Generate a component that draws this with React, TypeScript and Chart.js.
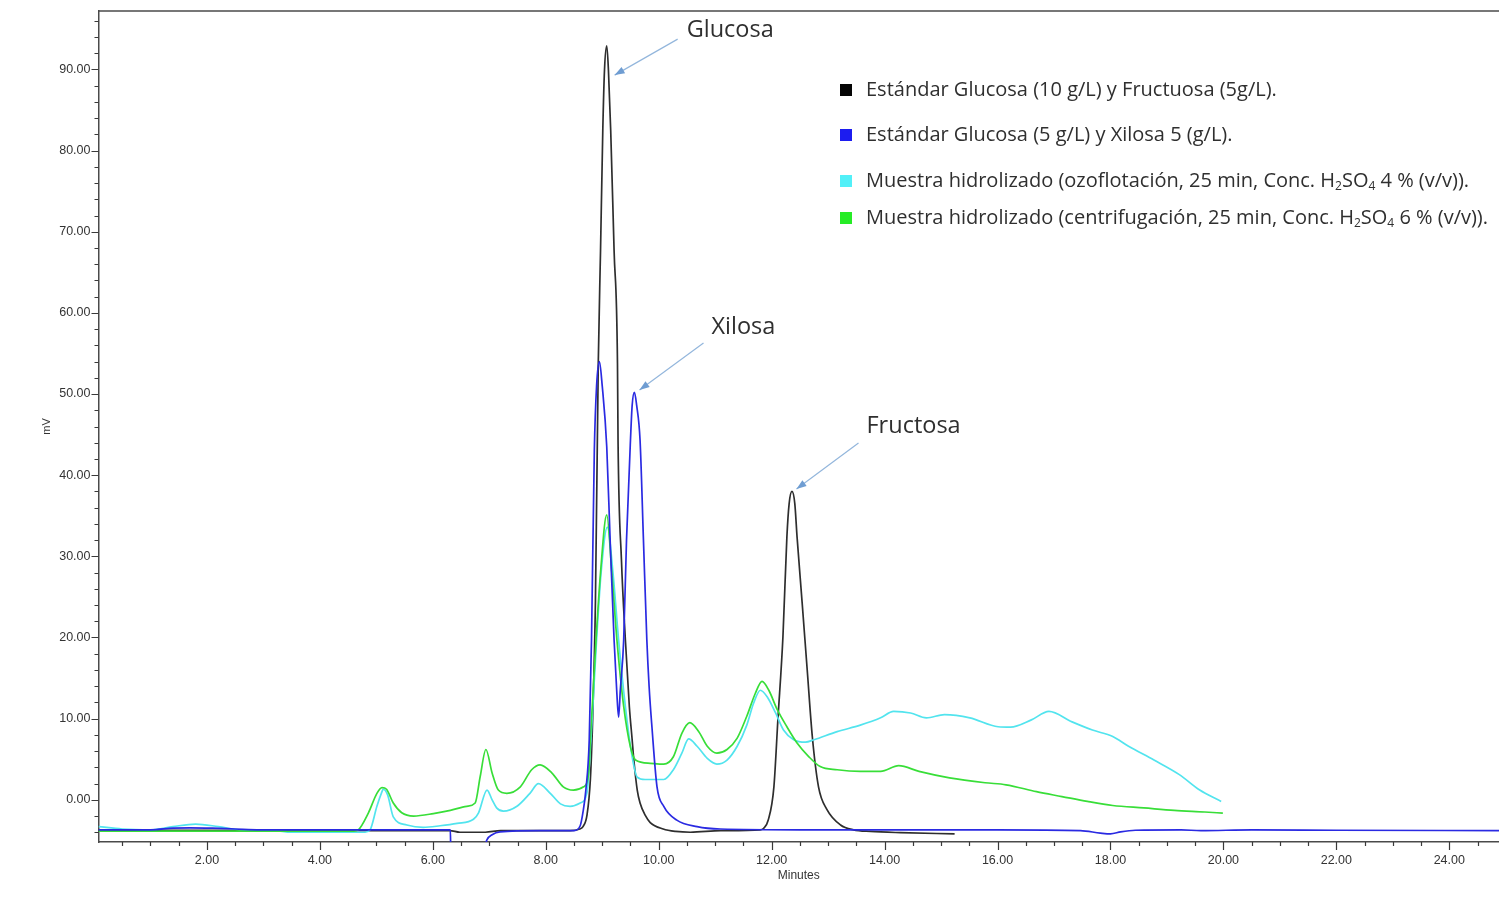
import React, { useEffect, useRef } from "react";
import { Chart, registerables } from "chart.js";

Chart.register(...registerables);

// Axis extents: retention time (min) and detector signal (mV)
const X_MIN = 0.08;
const X_MAX = 24.88;
const Y_MIN = -5.2;
const Y_MAX = 97.2;

// Labelled ticks and minor tick spacing
const X_TICKS = [2, 4, 6, 8, 10, 12, 14, 16, 18, 20, 22, 24];
const Y_TICKS = [0, 10, 20, 30, 40, 50, 60, 70, 80, 90];
const X_MINOR_STEP = 0.5;
const Y_MINOR_STEP = 2;

// Chromatograms as [time (min), signal (mV)]
const stdGlucoseFructose: [number, number][] = [
  [0.08, -3.8], [1.0, -3.75], [3.0, -3.8], [6.3, -3.8], [6.48, -4.0], [6.93, -4.0],
  [7.2, -3.8], [8.43, -3.8], [8.6, -3.6], [8.66, -3.3], [8.73, -1.9], [8.79, 2.5],
  [8.83, 9.8], [8.88, 24.6], [8.93, 53.8], [8.97, 67.7], [9.01, 82.5], [9.04, 89.9],
  [9.08, 92.9], [9.11, 89.9], [9.15, 82.5], [9.21, 67.7], [9.27, 53.8], [9.28, 44.3],
  [9.34, 29.6], [9.41, 19.7], [9.48, 11.5], [9.53, 7.4], [9.56, 4.9], [9.62, 1.2],
  [9.67, -0.4], [9.76, -1.9], [9.85, -2.8], [10.08, -3.6], [10.3, -3.9], [10.56, -4.0],
  [11.1, -3.8], [11.8, -3.7], [11.86, -3.5], [11.94, -2.5], [12.04, 1.6], [12.11, 9.8],
  [12.2, 20.1], [12.27, 32.4], [12.31, 36.5], [12.36, 38.0], [12.41, 36.5], [12.45, 32.4],
  [12.54, 24.3], [12.63, 16.0], [12.72, 7.8], [12.83, 1.6], [12.98, -1.2], [13.22, -3.1],
  [13.45, -3.7], [13.75, -3.9], [14.28, -4.05], [15.24, -4.2],
];

const stdGlucoseXylose: [number, number][] = [
  [0.08, -3.7], [1.0, -3.7], [1.4, -3.5], [1.7, -3.45], [2.1, -3.5], [2.5, -3.6],
  [2.94, -3.7], [6.31, -3.7], [6.32, -6.5], [6.88, -6.5], [6.96, -4.9], [7.05, -4.3],
  [7.19, -3.95], [7.9, -3.8], [8.5, -3.8], [8.61, -3.2], [8.66, -1.5], [8.71, 1.2],
  [8.77, 7.4], [8.81, 19.7], [8.86, 43.0], [8.9, 51.0], [8.95, 54.0], [9.0, 51.0],
  [9.08, 43.5], [9.14, 32.0], [9.21, 19.7], [9.26, 13.0], [9.29, 10.2], [9.32, 13.5],
  [9.38, 19.7], [9.43, 32.0], [9.5, 44.3], [9.53, 48.6], [9.57, 50.2], [9.61, 48.6],
  [9.67, 44.3], [9.73, 32.0], [9.79, 19.7], [9.83, 14.0], [9.88, 9.0], [9.97, 1.6],
  [10.09, -0.8], [10.32, -2.5], [10.68, -3.3], [11.09, -3.6], [12.5, -3.7], [16.0, -3.7],
  [17.47, -3.8], [17.82, -4.1], [18.0, -4.2], [18.18, -3.95], [18.44, -3.75], [19.25, -3.7],
  [19.6, -3.8], [20.5, -3.7], [22.0, -3.75], [24.88, -3.8],
];

const hydrolysateOzoflotation: [number, number][] = [
  [0.08, -3.3], [0.5, -3.6], [1.0, -3.7], [1.4, -3.3], [1.8, -3.0], [2.2, -3.3],
  [2.6, -3.7], [3.2, -3.8], [3.5, -4.0], [4.8, -4.0], [4.89, -3.7], [5.01, -0.8],
  [5.1, 1.0], [5.12, 1.3], [5.2, 0.6], [5.3, -2.1], [5.54, -3.1], [5.83, -3.4],
  [6.13, -3.2], [6.43, -2.9], [6.72, -2.4], [6.81, -1.6], [6.96, 1.2], [7.05, 0.0],
  [7.13, -1.0], [7.25, -1.4], [7.49, -0.8], [7.72, 0.8], [7.87, 2.0], [8.08, 0.8],
  [8.26, -0.5], [8.43, -0.8], [8.61, -0.4], [8.73, 0.9], [8.8, 7.4], [8.9, 19.7],
  [8.98, 28.0], [9.09, 33.6], [9.19, 28.0], [9.29, 19.7], [9.41, 11.5], [9.53, 5.3],
  [9.62, 2.8], [9.76, 2.5], [10.09, 2.5], [10.26, 3.7], [10.41, 5.75], [10.53, 7.5],
  [10.68, 6.6], [10.86, 5.1], [11.03, 4.4], [11.21, 4.9], [11.39, 6.6], [11.56, 9.2],
  [11.68, 11.9], [11.8, 13.5], [11.92, 12.7], [12.07, 10.7], [12.21, 8.6], [12.39, 7.4],
  [12.6, 7.1], [12.75, 7.4], [13.16, 8.4], [13.57, 9.2], [13.93, 10.1], [14.16, 10.9],
  [14.46, 10.7], [14.74, 10.1], [15.06, 10.5], [15.51, 10.1], [16.01, 9.0], [16.23, 8.95],
  [16.6, 9.85], [16.91, 10.9], [17.32, 9.6], [17.68, 8.6], [18.04, 7.8], [18.32, 6.6],
  [18.77, 4.9], [19.22, 3.1], [19.58, 1.2], [19.96, -0.2],
];

const hydrolysateCentrifugation: [number, number][] = [
  [0.08, -3.85], [4.6, -3.85], [4.68, -3.7], [4.86, -1.6], [5.01, 0.8], [5.1, 1.5],
  [5.18, 1.3], [5.3, -0.4], [5.45, -1.6], [5.66, -2.0], [6.01, -1.7], [6.31, -1.3],
  [6.6, -0.8], [6.75, -0.4], [6.84, 2.9], [6.94, 6.2], [7.05, 3.3], [7.16, 1.2],
  [7.31, 0.8], [7.55, 1.6], [7.75, 3.7], [7.9, 4.3], [8.11, 3.3], [8.31, 1.6],
  [8.49, 1.2], [8.67, 1.6], [8.76, 3.3], [8.79, 7.4], [8.89, 19.7], [8.97, 28.0],
  [9.08, 35.1], [9.17, 28.0], [9.26, 19.7], [9.38, 11.5], [9.5, 6.5], [9.59, 4.9],
  [9.85, 4.5], [10.09, 4.4], [10.26, 5.3], [10.41, 8.2], [10.55, 9.5], [10.71, 8.4],
  [10.86, 6.6], [11.03, 5.75], [11.21, 6.2], [11.39, 7.6], [11.56, 10.3], [11.71, 13.1],
  [11.83, 14.6], [11.95, 13.5], [12.1, 11.1], [12.27, 9.0], [12.45, 7.0], [12.66, 5.3],
  [12.86, 4.1], [13.16, 3.7], [13.57, 3.5], [13.93, 3.5], [14.25, 4.2], [14.61, 3.5],
  [15.15, 2.7], [15.78, 2.1], [16.15, 1.85], [16.69, 1.0], [17.14, 0.4], [17.59, -0.2],
  [18.04, -0.7], [18.59, -1.0], [19.13, -1.3], [19.67, -1.5], [19.99, -1.64],
];

const SERIES_LABELS = [
  "Estándar Glucosa (10 g/L) y Fructuosa (5g/L).",
  "Estándar Glucosa (5 g/L) y Xilosa 5 (g/L).",
  "Muestra hidrolizado (ozoflotación, 25 min, Conc. H_2SO_4 4 % (v/v)).",
  "Muestra hidrolizado (centrifugación, 25 min, Conc. H_2SO_4 6 % (v/v)).",
];
const SERIES_DATA = [stdGlucoseFructose, stdGlucoseXylose, hydrolysateOzoflotation, hydrolysateCentrifugation];
const SERIES_COLORS = ["#2e2e2e", "#2a2ae2", "#52e4ee", "#38de38"];
const SWATCH_COLORS = ["#050505", "#1c1cf0", "#52f0f8", "#26ec26"];
const SERIES_ORDER = [3, 0, 2, 1];

// Peak callouts: name and the point (min, mV) the arrow touches
const PEAK_NAMES = ["Glucosa", "Xilosa", "Fructosa"];
const PEAK_TIMES = [9.22, 9.66, 12.44];
const PEAK_SIGNALS = [89.3, 50.5, 38.3];

const LABEL_FONT = "'Open Sans', 'DejaVu Sans', sans-serif";
const AXIS_FONT = "'Liberation Sans', Arial, sans-serif";

// Draws text where "_d" marks a subscript digit
function drawRichText(ctx: CanvasRenderingContext2D, text: string, x: number, y: number, size: number) {
  const parts = text.split(/_(\d)/);
  let cx = x;
  parts.forEach((part, i) => {
    const sub = i % 2 === 1;
    ctx.font = `${sub ? Math.round(size * 0.62) : size}px ${LABEL_FONT}`;
    ctx.fillText(part, cx, sub ? y + size * 0.3 : y);
    cx += ctx.measureText(part).width;
  });
}

const decorPlugin = {
  id: "chromDecor",
  afterDraw(chart: any) {
    const { ctx, chartArea, scales } = chart;
    const xs = scales.x;
    const ys = scales.y;
    ctx.save();

    // top frame line
    ctx.strokeStyle = "#4a4a4a";
    ctx.lineWidth = 1.5;
    ctx.beginPath();
    ctx.moveTo(chartArea.left, chartArea.top);
    ctx.lineTo(chartArea.right, chartArea.top);
    ctx.stroke();

    // major and minor tick marks
    ctx.strokeStyle = "#3a3a3a";
    ctx.lineWidth = 1.2;
    ctx.beginPath();
    for (let v = Math.ceil(X_MIN / X_MINOR_STEP) * X_MINOR_STEP; v <= X_MAX; v += X_MINOR_STEP) {
      const px = Math.round(xs.getPixelForValue(v)) + 0.5;
      const major = Math.abs(v / 2 - Math.round(v / 2)) < 1e-6;
      ctx.moveTo(px, chartArea.bottom);
      ctx.lineTo(px, chartArea.bottom + (major ? 8 : 4));
    }
    for (let v = Math.ceil(Y_MIN / Y_MINOR_STEP) * Y_MINOR_STEP; v <= Y_MAX; v += Y_MINOR_STEP) {
      const py = Math.round(ys.getPixelForValue(v)) + 0.5;
      const major = Math.abs(v / 10 - Math.round(v / 10)) < 1e-6;
      ctx.moveTo(chartArea.left, py);
      ctx.lineTo(chartArea.left - (major ? 7 : 4), py);
    }
    ctx.stroke();

    // peak callouts
    const tails = [[63, -36], [64, -47], [62, -46]];
    const texts = [[72, -45], [72, -63], [70, -63]];
    PEAK_NAMES.forEach((name, i) => {
      const tx = xs.getPixelForValue(PEAK_TIMES[i]);
      const ty = ys.getPixelForValue(PEAK_SIGNALS[i]);
      const sx = tx + tails[i][0];
      const sy = ty + tails[i][1];
      ctx.strokeStyle = "#93b6dc";
      ctx.lineWidth = 1.2;
      ctx.beginPath();
      ctx.moveTo(sx, sy);
      ctx.lineTo(tx, ty);
      ctx.stroke();
      const ang = Math.atan2(ty - sy, tx - sx);
      const len = 10;
      const half = 3.6;
      const bx = tx - Math.cos(ang) * len;
      const by = ty - Math.sin(ang) * len;
      ctx.fillStyle = "#6f9dd2";
      ctx.beginPath();
      ctx.moveTo(tx, ty);
      ctx.lineTo(bx - Math.sin(ang) * half, by + Math.cos(ang) * half);
      ctx.lineTo(bx + Math.sin(ang) * half, by - Math.cos(ang) * half);
      ctx.closePath();
      ctx.fill();
      ctx.fillStyle = "#2f2f2f";
      ctx.textBaseline = "middle";
      ctx.textAlign = "left";
      ctx.font = `23.5px ${LABEL_FONT}`;
      ctx.fillText(name, tx + texts[i][0], ty + texts[i][1]);
    });

    // legend
    const rows = [90, 135, 181, 218];
    SERIES_LABELS.forEach((label, i) => {
      ctx.fillStyle = SWATCH_COLORS[i];
      ctx.fillRect(840, rows[i] - 6, 12, 12);
      ctx.fillStyle = "#2f2f2f";
      ctx.textBaseline = "middle";
      ctx.textAlign = "left";
      drawRichText(ctx, label, 866, rows[i], 20);
    });

    ctx.restore();
  },
};

export default function App() {
  const canvasRef = useRef<HTMLCanvasElement>(null);

  useEffect(() => {
    const canvas = canvasRef.current;
    if (!canvas) return;
    const chart = new Chart(canvas, {
      type: "line",
      data: {
        datasets: SERIES_DATA.map((pts, i) => ({
          label: SERIES_LABELS[i],
          data: pts.map(([x, y]) => ({ x, y })),
          borderColor: SERIES_COLORS[i],
          borderWidth: 1.7,
          pointRadius: 0,
          cubicInterpolationMode: "monotone",
          fill: false,
          order: SERIES_ORDER[i],
        })),
      },
      options: {
        responsive: false,
        animation: false,
        layout: { padding: { top: 11, right: 0, left: 0, bottom: 0 } },
        plugins: { legend: { display: false }, tooltip: { enabled: false } },
        scales: {
          x: {
            type: "linear",
            min: X_MIN,
            max: X_MAX,
            afterFit: (s: any) => {
              s.height = 65;
              s.paddingLeft = 0;
              s.paddingRight = 0;
            },
            afterBuildTicks: (s: any) => { s.ticks = X_TICKS.map((v) => ({ value: v })); },
            grid: { display: false, drawTicks: false },
            border: { display: true, color: "#4a4a4a", width: 1.5 },
            ticks: {
              padding: 11,
              color: "#333333",
              font: { family: AXIS_FONT, size: 12.5 },
              maxRotation: 0,
              autoSkip: false,
              callback: (v: any) => Number(v).toFixed(2),
            },
            title: {
              display: true,
              text: "Minutes",
              color: "#333333",
              font: { family: AXIS_FONT, size: 12 },
              padding: { top: 0, bottom: 24 },
            },
          },
          y: {
            type: "linear",
            min: Y_MIN,
            max: Y_MAX,
            afterFit: (s: any) => {
              s.width = 98.5;
              s.paddingTop = 0;
              s.paddingBottom = 0;
            },
            afterBuildTicks: (s: any) => { s.ticks = Y_TICKS.map((v) => ({ value: v })); },
            grid: { display: false, drawTicks: false },
            border: { display: true, color: "#4a4a4a", width: 1.5 },
            ticks: {
              padding: 8,
              color: "#333333",
              font: { family: AXIS_FONT, size: 12.5 },
              autoSkip: false,
              callback: (v: any) => Number(v).toFixed(2),
            },
            title: {
              display: true,
              text: "mV",
              color: "#333333",
              font: { family: AXIS_FONT, size: 11 },
              padding: { top: 40, bottom: 0 },
            },
          },
        },
      },
      plugins: [decorPlugin],
    });
    return () => chart.destroy();
  }, []);

  return (
    <div style={{ position: "absolute", left: 0, top: 0, width: 1499, height: 907, background: "#ffffff" }}>
      <canvas ref={canvasRef} width={1499} height={907} />
    </div>
  );
}
